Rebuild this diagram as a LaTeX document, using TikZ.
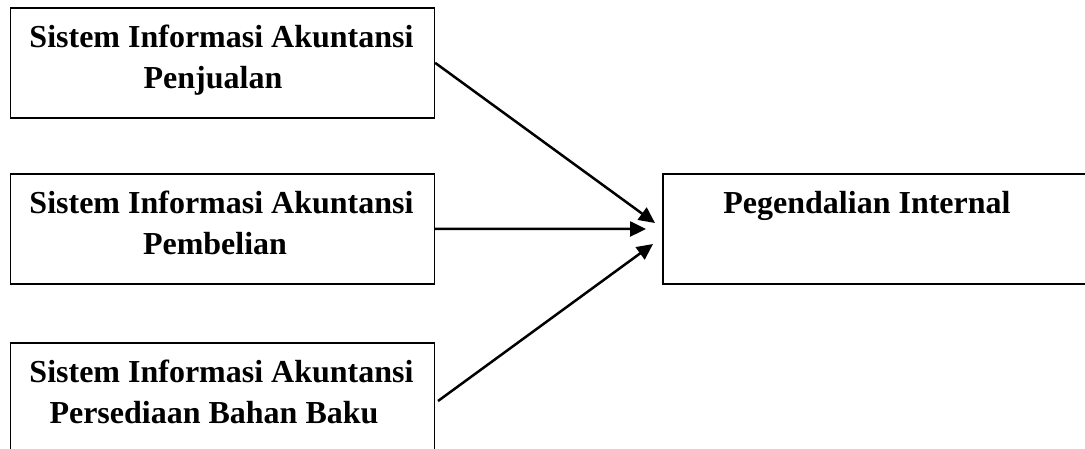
\documentclass[tikz,border=0pt]{standalone}
\usepackage{fontspec}
\setmainfont{Liberation Serif}
\usetikzlibrary{arrows.meta}
\begin{document}
\begin{tikzpicture}[x=1pt,y=-1pt,
  box/.style={draw, line width=1.6pt, minimum width=424pt, minimum height=110pt,
    inner sep=0pt, anchor=north west},
  lbl/.style={font=\fontsize{32}{40.5}\selectfont\bfseries, align=center,
    inner sep=0pt, anchor=north},
  link/.style={line width=2.5pt, -{Triangle[length=16pt,width=15pt]}}]
\useasboundingbox (0,0) rectangle (1085,448);
\clip (0,0) rectangle (1085,448);

% input variables
\node[box] (b1) at (9.5,7) {};
\node[box] (b2) at (9.5,173) {};
\node[box] (b3) at (9.5,342) {};
\node[lbl] (t1) at (221.5,25) {Sistem Informasi Akuntansi\\Penjualan\hspace*{17pt}};
\node[lbl] (t2) at (221.5,191) {Sistem Informasi Akuntansi\\Pembelian\hspace*{13pt}};
\node[lbl] (t3) at (221.5,360) {Sistem Informasi Akuntansi\\Persediaan Bahan Baku\hspace*{15pt}};

% dependent variable
\node[box, minimum width=440pt] (out) at (662,173) {};
\node[lbl] (tout) at (867,191) {Pegendalian Internal};

% arrow ends just before the target box
\coordinate (e1) at (655,223);
\coordinate (e2) at (646,229);
\coordinate (e3) at (653,244);
\coordinate (s3) at (438,401);

\draw[link] (b1.east) -- (e1);
\draw[link] (b2.east) -- (e2);
\draw[link] (s3) -- (e3);
\end{tikzpicture}
\end{document}
